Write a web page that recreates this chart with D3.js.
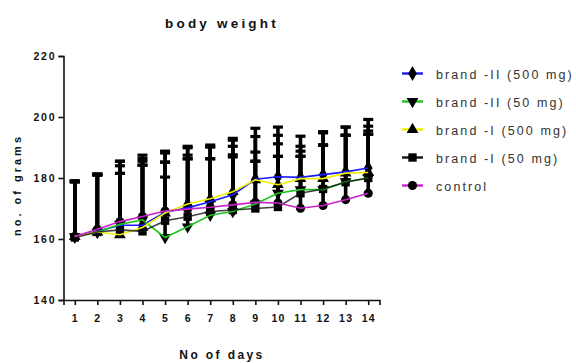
<!DOCTYPE html>
<html>
<head>
<meta charset="utf-8">
<script src="https://cdn.jsdelivr.net/npm/d3@7/dist/d3.min.js"></script>
<style>
  html, body { margin: 0; padding: 0; background: #fff; }
  svg { display: block; font-family: "Liberation Sans", Arial, sans-serif; }
</style>
</head>
<body>
<svg id="chart" width="576" height="363"></svg>
<script>
// Body weight (g) per day, mean and upper SD for each group
const days = [1, 2, 3, 4, 5, 6, 7, 8, 9, 10, 11, 12, 13, 14];
const yTicks = [140, 160, 180, 200, 220];
const seriesNames = ["brand -II (500 mg)", "brand -II (50 mg)", "brand -I (500 mg)", "brand -I (50 mg)", "control"];

const brand2_500 = [160.8, 162.5, 164.5, 164.5, 168.8, 170.2, 172.2, 174.5, 179.6, 180.4, 180.2, 181.1, 182.0, 183.3];
const brand2_50  = [160.8, 162.3, 164.8, 166.3, 160.5, 164.0, 167.8, 169.0, 171.5, 175.0, 176.2, 176.2, 178.8, 180.0];
const brand1_500 = [160.8, 162.3, 161.4, 163.8, 168.5, 171.5, 173.2, 175.5, 179.4, 177.8, 179.8, 179.8, 181.6, 181.8];
const brand1_50  = [160.5, 162.3, 163.0, 162.5, 166.0, 167.3, 169.0, 169.5, 170.0, 170.5, 175.0, 176.4, 178.6, 180.0];
const control    = [160.8, 163.2, 165.7, 167.4, 169.2, 169.8, 170.4, 171.2, 172.0, 171.8, 170.1, 171.0, 172.9, 175.0];

const sd_brand2_500 = [18.3, 18.8, 19.5, 21.0, 19.4, 19.7, 18.0, 17.9, 16.7, 16.3, 13.5, 14.1, 14.7, 15.9];
const sd_brand2_50  = [18.0, 18.6, 16.7, 20.1, 19.8, 22.3, 22.4, 17.9, 14.0, 16.2, 12.6, 14.6, 15.2, 15.4];
const sd_brand1_500 = [18.2, 18.9, 24.1, 20.4, 16.7, 18.9, 17.6, 17.5, 14.2, 16.2, 10.6, 15.0, 15.1, 15.2];
const sd_brand1_50  = [18.3, 18.7, 18.5, 21.7, 19.2, 19.0, 17.3, 18.1, 15.5, 16.6, 12.1, 14.4, 15.4, 14.3];
const sd_control    = [17.9, 18.1, 19.8, 20.1, 19.6, 17.7, 15.9, 19.2, 16.5, 15.3, 17.0, 19.8, 21.1, 19.3];

const means = [brand2_500, brand2_50, brand1_500, brand1_50, control];
const sds = [sd_brand2_500, sd_brand2_50, sd_brand1_500, sd_brand1_50, sd_control];
const colors = ["#1a1aff", "#1fc41f", "#f0f000", "#111111", "#cc22cc"];
const shapes = [d3.symbolDiamond, d3.symbolTriangle, d3.symbolTriangle, d3.symbolSquare, d3.symbolCircle];
const rotations = [0, 180, 0, 0, 0];
const sizes = [65, 60, 60, 70, 65];

const svg = d3.select("#chart");
const margin = { left: 63.5, right: 196.5, top: 56, bottom: 63 };
const W = 576, H = 363;

const x = d3.scaleLinear().domain([0.5, 14.5]).range([margin.left, W - margin.right]);
const y = d3.scaleLinear().domain([140, 220]).range([H - margin.bottom, margin.top]);

// Title
svg.append("text")
  .attr("x", 222).attr("y", 28)
  .attr("text-anchor", "middle")
  .style("font-size", "13.5px").style("font-weight", "bold")
  .style("letter-spacing", "3.2px").attr("fill", "#111")
  .text("body weight");

// Y axis
const yAxis = svg.append("g")
  .attr("transform", `translate(${margin.left},0)`)
  .call(d3.axisLeft(y).tickValues(yTicks).tickSize(5).tickPadding(4));
// X axis
const xAxis = svg.append("g")
  .attr("transform", `translate(0,${H - margin.bottom})`)
  .call(d3.axisBottom(x).tickValues(days).tickSize(5).tickPadding(10));

[yAxis, xAxis].forEach(g => {
  g.select(".domain").attr("stroke", "#111").attr("stroke-width", 1.6);
  g.selectAll(".tick line").attr("stroke", "#111").attr("stroke-width", 1.6);
  g.selectAll(".tick text")
    .attr("fill", "#111")
    .style("font-size", "10.5px").style("font-weight", "bold")
    .style("font-family", "'Liberation Sans', Arial, sans-serif");
});
yAxis.selectAll(".tick text").style("letter-spacing", "1.8px").attr("dx", "1.8px");
xAxis.selectAll(".tick text").style("letter-spacing", "1.2px");

// Axis titles
svg.append("text")
  .attr("transform", `translate(21,${(y(140) + y(220)) / 2 + 7}) rotate(-90)`)
  .attr("text-anchor", "middle")
  .style("font-size", "11px").style("font-weight", "bold")
  .style("letter-spacing", "3px").attr("fill", "#111")
  .text("no. of grams");

svg.append("text")
  .attr("x", 222).attr("y", 359)
  .attr("text-anchor", "middle")
  .style("font-size", "12px").style("font-weight", "bold")
  .style("letter-spacing", "2.4px").attr("fill", "#111")
  .text("No of days");

const plot = svg.append("g");

// Upper error bars
means.forEach((m, si) => {
  const g = plot.append("g");
  days.forEach((d, i) => {
    const top = m[i] + sds[si][i];
    g.append("line")
      .attr("x1", x(d)).attr("x2", x(d))
      .attr("y1", y(m[i])).attr("y2", y(top))
      .attr("stroke", "#000").attr("stroke-width", 3.6);
    g.append("line")
      .attr("x1", x(d) - 5).attr("x2", x(d) + 5)
      .attr("y1", y(top)).attr("y2", y(top))
      .attr("stroke", "#000").attr("stroke-width", 3.2);
  });
});

// Markers
means.forEach((m, si) => {
  plot.append("g").selectAll("path")
    .data(days)
    .join("path")
    .attr("transform", (d, i) => `translate(${x(d)},${y(m[i])}) rotate(${rotations[si]})`)
    .attr("d", d3.symbol().type(shapes[si]).size(sizes[si]))
    .attr("fill", "#000");
});

// Connecting lines
const line = d3.line().x((d, i) => x(days[i])).y(d => y(d));
means.forEach((m, si) => {
  plot.append("path")
    .datum(m)
    .attr("d", line)
    .attr("fill", "none")
    .attr("stroke", colors[si])
    .attr("stroke-width", 1.6)
    .attr("stroke-opacity", si === 3 ? 0.8 : 1);
});

// Legend
const legend = svg.append("g");
seriesNames.forEach((name, si) => {
  const ly = 73.5 + si * 28;
  const row = legend.append("g").attr("transform", `translate(0,${ly})`);
  row.append("line")
    .attr("x1", 402).attr("x2", 423)
    .attr("y1", 0).attr("y2", 0)
    .attr("stroke", colors[si]).attr("stroke-width", 2.4);
  row.append("path")
    .attr("transform", `translate(412.5,0) rotate(${rotations[si]})`)
    .attr("d", d3.symbol().type(shapes[si]).size(sizes[si]))
    .attr("fill", "#000");
  row.append("text")
    .attr("x", 436).attr("y", 5)
    .style("font-size", "12.5px")
    .style("letter-spacing", "2.1px")
    .attr("fill", "#333")
    .text(name);
});
</script>
</body>
</html>
